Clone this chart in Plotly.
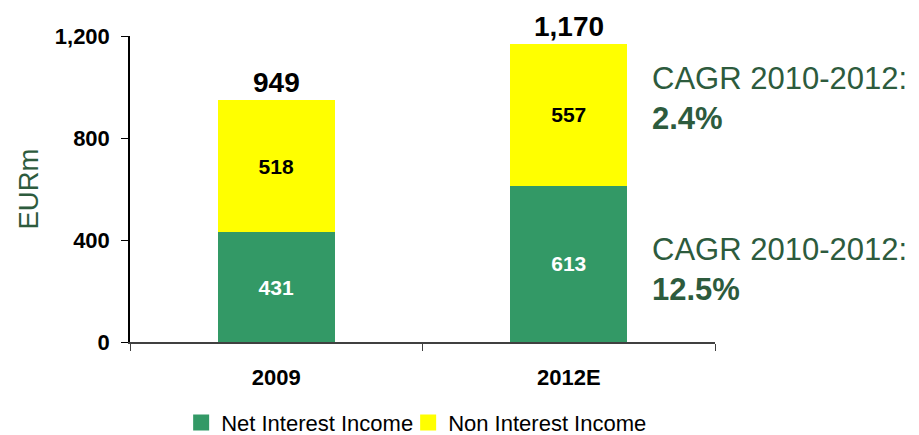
import plotly.graph_objects as go

FONT = "Arial, Liberation Sans, sans-serif"
GREEN = "#339966"
YELLOW = "#FFFF00"
DARK_GREEN = "#2D5B3D"

years = ["2009", "2012E"]
net_interest = [431, 613]
non_interest = [518, 557]
totals = [949, 1170]
y_ticks = [0, 400, 800, 1200]
y_tick_labels = ["0", "400", "800", "1,200"]
total_labels = ["949", "1,170"]
series_names = ["Net Interest Income", "Non Interest Income"]
cagr_text = [
    ("CAGR 2010-2012:", "2.4%"),
    ("CAGR 2010-2012:", "12.5%"),
]

fig = go.Figure()

fig.add_trace(go.Bar(
    x=years, y=net_interest, name=series_names[0], showlegend=False,
    marker=dict(color=GREEN, line=dict(width=0)),
    text=net_interest, textposition="inside", insidetextanchor="middle",
    textangle=0,
    textfont=dict(family=FONT, size=21, color="white", weight="bold"),
))
fig.add_trace(go.Bar(
    x=years, y=non_interest, name=series_names[1], showlegend=False,
    marker=dict(color=YELLOW, line=dict(width=0)),
    text=non_interest, textposition="inside", insidetextanchor="middle",
    textangle=0,
    textfont=dict(family=FONT, size=21, color="black", weight="bold"),
))

# legend entries with bigger square swatches
fig.add_trace(go.Scatter(
    x=[None], y=[None], mode="markers", name=series_names[0],
    marker=dict(symbol="square", size=16, color=GREEN), legendwidth=182,
))
fig.add_trace(go.Scatter(
    x=[None], y=[None], mode="markers", name=series_names[1],
    marker=dict(symbol="square", size=16, color=YELLOW),
))

# totals on top of the stacks (x given as category index)
for i, (tot, lbl) in enumerate(zip(totals, total_labels)):
    fig.add_annotation(
        x=i, y=tot, text=lbl, showarrow=False, yanchor="bottom",
        font=dict(family=FONT, size=28, color="black", weight="bold"),
    )

# CAGR notes on the right
for (head, val), ypos in zip(cagr_text, [953, 286]):
    fig.add_annotation(
        xref="paper", x=0.889, y=ypos, xanchor="left", yanchor="middle",
        align="left", showarrow=False,
        text=f"{head}<br><b>{val}</b>",
        font=dict(family=FONT, size=31, color=DARK_GREEN),
    )

# page body adds an 8px offset, so the figure is 8px smaller each way
fig.update_layout(
    width=911, height=427,
    margin=dict(l=122, r=204, t=28, b=93, autoexpand=False),
    barmode="stack", bargap=0.6,
    plot_bgcolor="white", paper_bgcolor="white",
    showlegend=True,
    legend=dict(
        orientation="h", x=0.49, xanchor="center", y=-0.264, yanchor="middle",
        font=dict(family=FONT, size=22, color="black"),
        traceorder="normal", itemsizing="trace",
    ),
)
fig.update_xaxes(
    type="category", range=[-0.5, 1.5],
    showline=True, linecolor="#404040", linewidth=1.5,
    ticks="outside", ticklen=7, tickcolor="#404040", tickson="boundaries",
    tickfont=dict(family=FONT, size=22, color="black", weight="bold"),
    tickangle=0, automargin=False, ticklabelstandoff=15,
    showgrid=False,
)
fig.update_yaxes(
    range=[0, 1200], tickvals=y_ticks, ticktext=y_tick_labels,
    showline=True, linecolor="black", linewidth=1.5,
    ticks="outside", ticklen=7, tickcolor="black",
    tickfont=dict(family=FONT, size=22, color="black", weight="bold"),
    showgrid=False, zeroline=False, automargin=False, ticklabelstandoff=7,
    title=dict(text="EURm", standoff=8,
               font=dict(family=FONT, size=27.5, color=DARK_GREEN)),
)

fig.write_html("out.html")
